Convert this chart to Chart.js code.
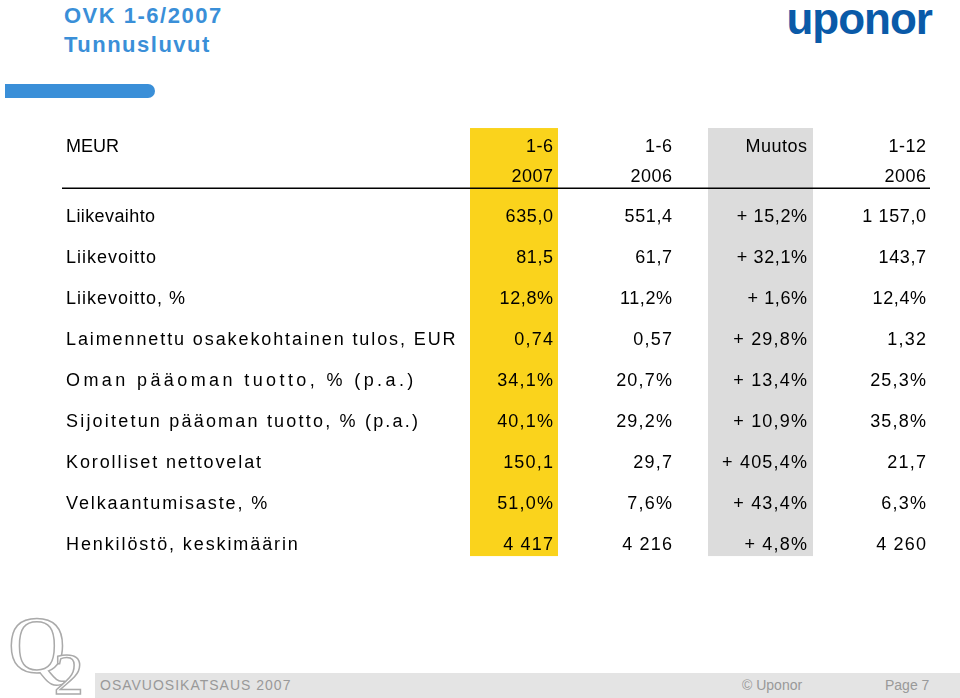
<!DOCTYPE html>
<html><head><meta charset="utf-8">
<script src="https://cdn.jsdelivr.net/npm/chart.js@4/dist/chart.umd.min.js"></script>
<style>
body{margin:0;width:960px;height:698px;overflow:hidden;background:#fff;font-family:"Liberation Sans",Arial,sans-serif;position:relative}
#c{position:absolute;left:0;top:0}
.t{position:absolute;color:#3a8fd8;font-weight:bold;font-size:22px;letter-spacing:1.5px;left:64px}
</style></head><body>
<div class="t" style="top:3px">OVK 1-6/2007</div>
<div class="t" style="top:32px">Tunnusluvut</div>
<div style="position:absolute;left:5px;top:84px;width:150px;height:14px;background:#3a8fd8;border-radius:0 7px 7px 0"></div>
<div style="position:absolute;right:28px;top:-6px;font:bold 44px 'Liberation Sans',Arial;color:#0a5aa8;letter-spacing:-1px">uponor</div>
<div style="position:absolute;left:95px;top:673px;width:865px;height:25px;background:#e4e4e4"></div>
<div style="position:absolute;left:8px;top:600px;font:80px 'Liberation Serif',serif;color:#fff;-webkit-text-stroke:1.5px #aaa">Q<span style="font-size:60px;position:relative;left:-12px;top:22px">2</span></div>
<div style="position:absolute;left:100px;top:677px;font:14px 'Liberation Sans';color:#999;letter-spacing:1px">OSAVUOSIKATSAUS 2007</div>
<div style="position:absolute;left:742px;top:677px;font:14px 'Liberation Sans';color:#999">© Uponor</div>
<div style="position:absolute;left:885px;top:677px;font:14px 'Liberation Sans';color:#999">Page 7</div>
<canvas id="c" width="960" height="698"></canvas>
<script>
const headers1 = ['MEUR', '1-6', '1-6', 'Muutos', '1-12'];
const headers2 = ['', '2007', '2006', '', '2006'];
const rowLabels = ['Liikevaihto', 'Liikevoitto', 'Liikevoitto, %', 'Laimennettu osakekohtainen tulos, EUR',
  'Oman pääoman tuotto, % (p.a.)', 'Sijoitetun pääoman tuotto, % (p.a.)', 'Korolliset nettovelat',
  'Velkaantumisaste, %', 'Henkilöstö, keskimäärin'];
const h1_2007 = ['635,0', '81,5', '12,8%', '0,74', '34,1%', '40,1%', '150,1', '51,0%', '4 417'];
const h1_2006 = ['551,4', '61,7', '11,2%', '0,57', '20,7%', '29,2%', '29,7', '7,6%', '4 216'];
const change = ['+15,2%', '+32,1%', '+1,6%', '+29,8%', '+13,4%', '+10,9%', '+405,4%', '+43,4%', '+4,8%'];
const fy2006 = ['1 157,0', '143,7', '12,4%', '1,32', '25,3%', '35,8%', '21,7', '6,3%', '4 260'];

// layout (x anchors in scale units, y in row units)
const colRight = [null, 553, 672, 807, 926];
const labelX = 66;
const labelSpacing = [0.4, 1, 1, 1.9, 3.4, 2.2, 1.9, 1.9, 1.9];
const bands = [{x0: 470, x1: 558, c: '#fad31c'}, {x0: 708, x1: 813, c: '#dcdcdc'}];
const hdrY = [-1.71, -0.98];

const tablePlugin = {
  id: 'table',
  beforeDatasetsDraw(chart) {
    const {ctx, scales: {x, y}} = chart;
    bands.forEach(b => {
      ctx.fillStyle = b.c;
      const top = y.getPixelForValue(-2.17), bot = y.getPixelForValue(8.27);
      ctx.fillRect(x.getPixelForValue(b.x0), top, x.getPixelForValue(b.x1) - x.getPixelForValue(b.x0), bot - top);
    });
    ctx.strokeStyle = '#000'; ctx.lineWidth = 1.5;
    const ly = y.getPixelForValue(-0.7);
    ctx.beginPath(); ctx.moveTo(x.getPixelForValue(62), ly); ctx.lineTo(x.getPixelForValue(930), ly); ctx.stroke();

    ctx.fillStyle = '#000'; ctx.textBaseline = 'middle';
    const put = (t, xv, yv, align, sp) => {
      ctx.font = '18px "Liberation Sans", Arial';
      ctx.letterSpacing = sp + 'px';
      ctx.textAlign = align;
      ctx.fillText(t, x.getPixelForValue(xv) + (align === 'right' ? sp : 0), y.getPixelForValue(yv));
    };
    [headers1, headers2].forEach((h, r) => h.forEach((t, i) => {
      if (t) put(t, i === 0 ? labelX : colRight[i], hdrY[r], i === 0 ? 'left' : 'right', i === 0 ? 0 : 0.5);
    }));
    rowLabels.forEach((lab, r) => {
      put(lab, labelX, r, 'left', labelSpacing[r]);
      [h1_2007, h1_2006, change, fy2006].forEach((col, i) => {
        const t = col === change ? col[r].replace('+', '+ ') : col[r];
        put(t, colRight[i + 1], r, 'right', r >= 3 ? 1.2 : 0.6);
      });
    });
  }
};

new Chart(document.getElementById('c'), {
  type: 'scatter',
  data: {datasets: [{data: []}]},
  options: {
    responsive: false, animation: false,
    layout: {padding: 0},
    plugins: {legend: {display: false}, tooltip: {enabled: false}},
    scales: {
      x: {type: 'linear', min: 0, max: 960, display: false},
      y: {type: 'linear', min: -217 / 41, max: 481 / 41, reverse: true, display: false}
    }
  },
  plugins: [tablePlugin]
});
</script>
</body></html>
